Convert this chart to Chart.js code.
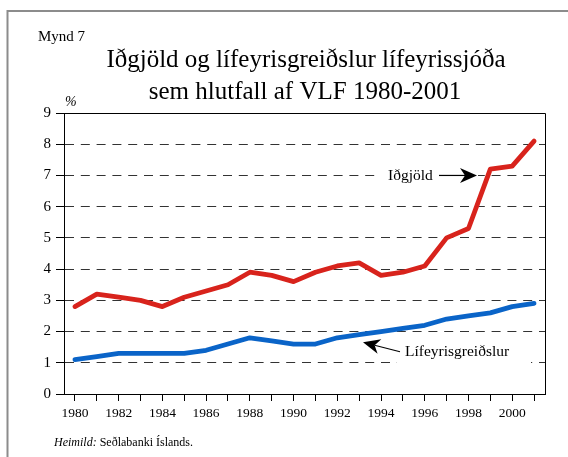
<!DOCTYPE html>
<html>
<head>
<meta charset="utf-8">
<script src="https://cdn.jsdelivr.net/npm/chart.js@4/dist/chart.umd.min.js"></script>
<style>
  html, body { margin: 0; padding: 0; background: #fff; }
  #wrap { width: 568px; height: 457px; }
</style>
</head>
<body>
<div id="wrap"><canvas id="chart" width="568" height="457"></canvas></div>
<script>
const years = ['1980','1981','1982','1983','1984','1985','1986','1987','1988','1989','1990',
  '1991','1992','1993','1994','1995','1996','1997','1998','1999','2000','2001'];
const idgjold = [2.8, 3.2, 3.1, 3.0, 2.8, 3.1, 3.3, 3.5, 3.9, 3.8, 3.6,
  3.9, 4.1, 4.2, 3.8, 3.9, 4.1, 5.0, 5.3, 7.2, 7.3, 8.1];
const lifeyrisgreidslur = [1.1, 1.2, 1.3, 1.3, 1.3, 1.3, 1.4, 1.6, 1.8, 1.7, 1.6,
  1.6, 1.8, 1.9, 2.0, 2.1, 2.2, 2.4, 2.5, 2.6, 2.8, 2.9];
const titleLines = ['Iðgjöld og lífeyrisgreiðslur lífeyrissjóða', 'sem hlutfall af VLF 1980-2001'];
const seriesNames = ['Iðgjöld', 'Lífeyrisgreiðslur'];

const SERIF = "'Liberation Serif', 'Times New Roman', serif";

function arrow(ctx, x1, y1, x2, y2) {
  // line from (x1,y1) to tip (x2,y2) with a notched filled head
  const ang = Math.atan2(y2 - y1, x2 - x1);
  const len = 17, half = 7.5, notch = 12;
  ctx.save();
  ctx.strokeStyle = '#000';
  ctx.fillStyle = '#000';
  ctx.lineWidth = 1.2;
  ctx.beginPath();
  ctx.moveTo(x1, y1);
  ctx.lineTo(x2 - Math.cos(ang) * notch, y2 - Math.sin(ang) * notch);
  ctx.stroke();
  ctx.translate(x2, y2);
  ctx.rotate(ang);
  ctx.beginPath();
  ctx.moveTo(0, 0);
  ctx.lineTo(-len, -half);
  ctx.lineTo(-notch, 0);
  ctx.lineTo(-len, half);
  ctx.closePath();
  ctx.fill();
  ctx.restore();
}

const decor = {
  id: 'decor',
  beforeDatasetsDraw(chart) {
    const ctx = chart.ctx;
    const a = chart.chartArea;
    const y = chart.scales.y;
    ctx.save();
    // plot box top and right
    ctx.strokeStyle = '#000';
    ctx.lineWidth = 1;
    ctx.beginPath();
    ctx.moveTo(a.left, Math.round(a.top) + 0.5);
    ctx.lineTo(Math.round(a.right) + 0.5, Math.round(a.top) + 0.5);
    ctx.lineTo(Math.round(a.right) + 0.5, a.bottom);
    ctx.stroke();

    // label boxes hide the grid behind the text
    ctx.fillStyle = '#fff';
    const y7 = y.getPixelForValue(7);
    ctx.fillRect(381, y7 - 8, 97, 16);
    const y1 = y.getPixelForValue(1);
    ctx.fillRect(397, y1 - 10, 134, 18);

    ctx.fillStyle = '#000';
    ctx.font = '15.5px ' + SERIF;
    ctx.textBaseline = 'alphabetic';
    ctx.textAlign = 'left';
    ctx.fillText(seriesNames[0], 388, y7 + 4.5);
    arrow(ctx, 439, y7, 477, y7);
    ctx.fillText(seriesNames[1], 405, y1 - 7);
    arrow(ctx, 400, y1 - 11, 363, y1 - 20.5);
    ctx.restore();
  },
  afterDraw(chart) {
    const ctx = chart.ctx;
    ctx.save();
    // outer frame (left and top only)
    ctx.strokeStyle = '#8c8c8c';
    ctx.lineWidth = 2;
    ctx.beginPath();
    ctx.moveTo(7.5, 457);
    ctx.lineTo(7.5, 11);
    ctx.lineTo(568, 11);
    ctx.stroke();

    ctx.fillStyle = '#000';
    ctx.textBaseline = 'alphabetic';
    ctx.textAlign = 'left';
    ctx.font = '15px ' + SERIF;
    ctx.fillText('Mynd 7', 38, 41);

    ctx.textAlign = 'center';
    ctx.font = '25px ' + SERIF;
    ctx.fillText(titleLines[0], 306, 67);
    ctx.fillText(titleLines[1], 305, 99);

    ctx.textAlign = 'left';
    ctx.font = 'italic 14px ' + SERIF;
    ctx.fillText('%', 65, 106);

    ctx.font = 'italic 12px ' + SERIF;
    ctx.fillText('Heimild:', 54, 446);
    const w = ctx.measureText('Heimild: ').width;
    ctx.font = '12px ' + SERIF;
    ctx.fillText('Seðlabanki Íslands.', 54 + w, 446);
    ctx.restore();
  }
};

new Chart(document.getElementById('chart'), {
  type: 'line',
  data: {
    labels: years,
    datasets: [
      {
        label: seriesNames[0],
        data: idgjold,
        borderColor: '#d8231c',
        borderWidth: 4.8,
        pointRadius: 0,
        borderJoinStyle: 'round',
        borderCapStyle: 'round',
        tension: 0,
      },
      {
        label: seriesNames[1],
        data: lifeyrisgreidslur,
        borderColor: '#0a64c8',
        borderWidth: 4.8,
        pointRadius: 0,
        borderJoinStyle: 'round',
        borderCapStyle: 'round',
        tension: 0,
      },
    ],
  },
  options: {
    responsive: false,
    animation: false,
    layout: { padding: { left: 0, top: 113, right: 23, bottom: 0 } },
    plugins: {
      legend: { display: false },
      tooltip: { enabled: false },
      title: { display: false },
    },
    scales: {
      x: {
        offset: true,
        afterFit(s) { s.height = 63; },
        grid: {
          display: true,
          drawOnChartArea: false,
          drawTicks: true,
          tickLength: 7,
          tickColor: '#000',
          offset: false,
        },
        border: { display: true, color: '#000', width: 1 },
        ticks: {
          autoSkip: false,
          maxRotation: 0,
          padding: 4,
          color: '#000',
          font: { family: SERIF, size: 13.5 },
          callback(value, index) {
            return index % 2 === 0 ? this.getLabelForValue(value) : '';
          },
        },
      },
      y: {
        min: 0,
        max: 9,
        afterFit(s) { s.width = 64; },
        grid: {
          color: '#333',
          lineWidth: 1,
          tickLength: 8,
          tickColor: '#000',
          tickBorderDash: [],
        },
        border: { display: true, color: '#000', width: 1, dash: [9, 6.8] },
        ticks: {
          stepSize: 1,
          padding: 5,
          color: '#000',
          font: { family: SERIF, size: 15 },
        },
      },
    },
  },
  plugins: [decor],
});
</script>
</body>
</html>
